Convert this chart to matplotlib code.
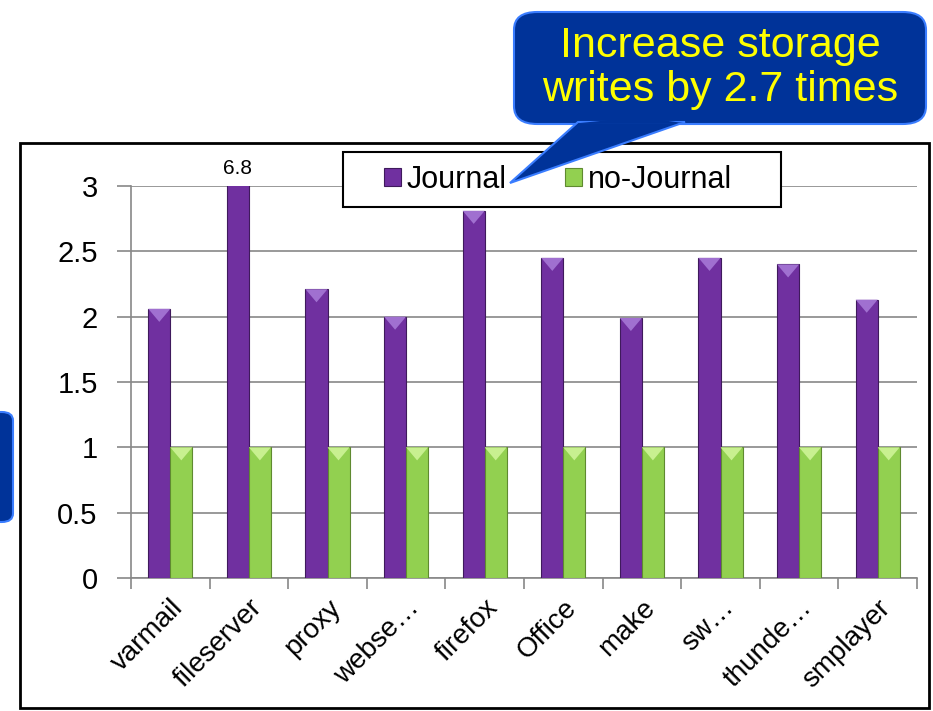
import numpy as np
import matplotlib.pyplot as plt
from matplotlib.patches import FancyBboxPatch, Rectangle, Polygon

plt.rcParams['font.family'] = ['Liberation Sans', 'DejaVu Sans']

workloads = ['varmail', 'fileserver', 'proxy', 'webse\u2026', 'firefox',
             'Office', 'make', 'sw\u2026', 'thunde\u2026', 'smplayer']
journal = [2.06, 6.8, 2.21, 2.0, 2.81, 2.45, 1.99, 2.45, 2.4, 2.13]
no_journal = [1, 1, 1, 1, 1, 1, 1, 1, 1, 1]
y_ticks = [0, 0.5, 1, 1.5, 2, 2.5, 3]
y_tick_labels = ['0', '0.5', '1', '1.5', '2', '2.5', '3']

purple = '#7030A0'
green = '#92D050'
W, H = 933, 711


def fx(px):
    return px / W


def fy(py):
    return 1 - py / H


fig = plt.figure(figsize=(9.33, 7.11), dpi=100)

# outer frame around the chart
fig.patches.append(Rectangle((fx(20), fy(708)), fx(909), 565 / H,
                             transform=fig.transFigure, fill=False,
                             edgecolor='black', linewidth=2, zorder=0))

ax = fig.add_axes([fx(131), fy(578), fx(786), 392 / H])

x = np.arange(len(workloads))
w = 0.28
b1 = ax.bar(x - w / 2, journal, w, color=purple, edgecolor='#3f1a5c',
            linewidth=0.8, zorder=3, label='Journal')
b2 = ax.bar(x + w / 2, no_journal, w, color=green, edgecolor='#5f8a30',
            linewidth=0.8, zorder=3, label='no-Journal')

# small bevel triangles at the top of each bar
for bars, col in ((b1, '#a070d0'), (b2, '#c8f090')):
    for r in bars:
        if r.get_height() > 3:
            continue
        top = r.get_height()
        x0 = r.get_x()
        bw = r.get_width()
        ax.add_patch(Polygon([[x0, top], [x0 + bw, top], [x0 + bw / 2, top - 0.1]],
                             closed=True, color=col, zorder=4, linewidth=0))

ax.set_xlim(-0.5, len(workloads) - 0.5)
ax.set_ylim(0, 3)
ax.set_yticks(y_ticks)
ax.set_yticklabels(y_tick_labels, fontsize=21)
ax.set_xticks(x)
ax.set_xticklabels(workloads, rotation=45, ha='right', rotation_mode='anchor',
                   fontsize=20)
ax.tick_params(axis='x', length=0, pad=12)
ax.tick_params(axis='y', length=10, color='#888888', width=1.2, pad=14)
ax.set_xticks(np.arange(len(workloads) + 1) - 0.5, minor=True)
ax.tick_params(axis='x', which='minor', length=8, color='#888888', width=1.2)

ax.yaxis.grid(True, color='#888888', linewidth=1.2, zorder=0)
for s in ('top', 'right'):
    ax.spines[s].set_visible(False)
for s in ('left', 'bottom'):
    ax.spines[s].set_color('#888888')
    ax.spines[s].set_linewidth(1.2)

# clipped bar gets its real value written above it
ax.text(x[1] - w / 2, 3.06, f'{journal[1]}', ha='center', va='bottom', fontsize=15)

# legend with its own frame
ax.add_patch(Rectangle((fx(343), fy(207)), fx(438), 55 / H,
                       transform=fig.transFigure, facecolor='white',
                       edgecolor='black', linewidth=1.5, zorder=5,
                       clip_on=False))
leg = ax.legend(loc='center left', bbox_to_anchor=(fx(384), fy(180)),
                bbox_transform=fig.transFigure, ncol=2, fontsize=22,
                frameon=False, handlelength=0.55, handleheight=0.55,
                handletextpad=0.2, columnspacing=1.9, borderpad=0,
                borderaxespad=0)
leg.set_zorder(6)

# callout bubble
bubble = FancyBboxPatch((fx(514), fy(124)), fx(412), 112 / H,
                        boxstyle='round,pad=0,rounding_size=0.025',
                        transform=fig.transFigure, facecolor='#003399',
                        edgecolor='#3a7dff', linewidth=1.5, zorder=10)
fig.patches.append(bubble)
tail = Polygon([[fx(578), fy(122)], [fx(685), fy(122)], [fx(510), fy(183)]],
               closed=True, transform=fig.transFigure, facecolor='#003399',
               edgecolor='#3a7dff', linewidth=1.5, zorder=10)
fig.patches.append(tail)
fig.patches.append(Polygon([[fx(580), fy(123)], [fx(683), fy(123)], [fx(640), fy(117)]],
                           closed=True, transform=fig.transFigure,
                           facecolor='#003399', edgecolor='none', zorder=11))
fig.text(fx(720), fy(68), 'Increase storage\nwrites by 2.7 times',
         ha='center', va='center', color='#ffff00', fontsize=31,
         linespacing=1.12, zorder=12)

# edge of another bubble on the left margin
fig.patches.append(FancyBboxPatch((fx(-20), fy(522)), fx(33), 110 / H,
                                  boxstyle='round,pad=0,rounding_size=0.012',
                                  transform=fig.transFigure, facecolor='#003399',
                                  edgecolor='#3a7dff', linewidth=1.5, zorder=10))

fig.savefig('out.png', dpi=100)
